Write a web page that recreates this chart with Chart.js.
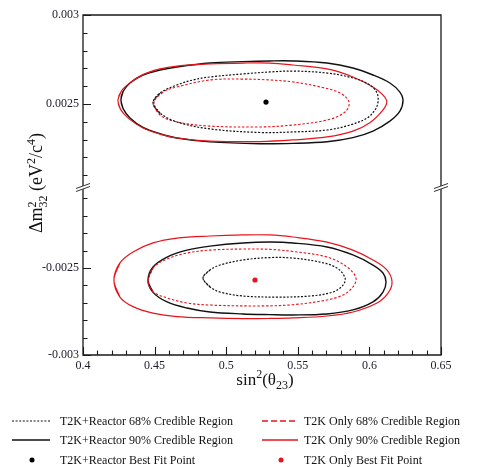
<!DOCTYPE html>
<html><head><meta charset="utf-8">
<script src="https://cdn.jsdelivr.net/npm/chart.js@4.4.0/dist/chart.umd.min.js"></script>
<style>
html,body{margin:0;padding:0;background:#fff;}
#wrap{position:relative;width:478px;height:467px;overflow:hidden;font-family:"Liberation Serif","DejaVu Serif",serif;color:#111;}
#c{position:absolute;left:0;top:0;}
.ytitle{position:absolute;left:38px;top:183px;transform:translate(-50%,-50%) rotate(-90deg);white-space:nowrap;font-size:18px;line-height:1;}
.xtitle{position:absolute;left:265px;top:379px;transform:translate(-50%,-50%);white-space:nowrap;font-size:17px;line-height:1;}
.ss{display:inline-block;vertical-align:-0.45em;line-height:0.95;font-size:12px;text-align:left;}
.ss span{display:block;}
sup,sub{font-size:12px;line-height:0;}
.leg{position:absolute;font-size:12px;white-space:nowrap;line-height:14px;}
svg.smp{position:absolute;}
</style></head>
<body>
<div id="wrap">
<canvas id="c" width="478" height="467"></canvas>
<div class="ytitle">Δm<span class="ss"><span>2</span><span>32</span></span> (eV<sup>2</sup>/c<sup>4</sup>)</div>
<div class="xtitle">sin<sup>2</sup>(θ<sub>23</sub>)</div>

<svg class="smp" style="left:12px;top:416px" width="40" height="10"><line x1="0" y1="5" x2="38" y2="5" stroke="#111" stroke-width="1.2" stroke-dasharray="2,1.6"/></svg>
<div class="leg" style="left:60px;top:414px">T2K+Reactor 68% Credible Region</div>
<svg class="smp" style="left:12px;top:435px" width="40" height="10"><line x1="0" y1="5" x2="38" y2="5" stroke="#111" stroke-width="1.5"/></svg>
<div class="leg" style="left:60px;top:433px">T2K+Reactor 90% Credible Region</div>
<svg class="smp" style="left:27px;top:455px" width="10" height="10"><circle cx="5" cy="5" r="2.5" fill="#000"/></svg>
<div class="leg" style="left:60px;top:453px">T2K+Reactor Best Fit Point</div>

<svg class="smp" style="left:262px;top:416px" width="40" height="10"><line x1="0" y1="5" x2="36" y2="5" stroke="#e8141b" stroke-width="1.3" stroke-dasharray="6,3"/></svg>
<div class="leg" style="left:304px;top:414px">T2K Only 68% Credible Region</div>
<svg class="smp" style="left:262px;top:435px" width="40" height="10"><line x1="0" y1="5" x2="36" y2="5" stroke="#e8141b" stroke-width="1.3"/></svg>
<div class="leg" style="left:304px;top:433px">T2K Only 90% Credible Region</div>
<svg class="smp" style="left:276px;top:455px" width="10" height="10"><circle cx="5" cy="5" r="2.5" fill="#e8141b"/></svg>
<div class="leg" style="left:304px;top:453px">T2K Only Best Fit Point</div>
</div>
<script>
// ---- data (sin^2(theta23), Δm^2_32 in eV^2/c^4) ----
const xTicks = [0.4, 0.45, 0.5, 0.55, 0.6, 0.65];
const xMinorTicks = [0.41,0.42,0.43,0.44,0.46,0.47,0.48,0.49,0.51,0.52,0.53,0.54,0.56,0.57,0.58,0.59,0.61,0.62,0.63,0.64];
const yTopTicks = [0.0025, 0.003];
const yBotTicks = [-0.003, -0.0025];
const yTopMinor = [0.0021,0.0022,0.0023,0.0024,0.0026,0.0027,0.0028,0.0029];
const yBotMinor = [-0.0029,-0.0028,-0.0027,-0.0026,-0.0024,-0.0023,-0.0022,-0.0021];

// Normal ordering (upper panel)
const reactor90Top = [[0.4265,0.002522],[0.4280,0.002570],[0.4328,0.002618],[0.4419,0.002663],[0.4538,0.002691],[0.4656,0.002708],[0.4887,0.002730],[0.5117,0.002738],[0.5305,0.002742],[0.5466,0.002742],[0.5704,0.002730],[0.5885,0.002702],[0.6025,0.002663],[0.6143,0.002618],[0.6213,0.002567],[0.6235,0.002522],[0.6213,0.002460],[0.6143,0.002404],[0.6025,0.002348],[0.5885,0.002311],[0.5704,0.002288],[0.5466,0.002279],[0.5235,0.002277],[0.4887,0.002287],[0.4656,0.002309],[0.4538,0.002333],[0.4419,0.002369],[0.4328,0.002422],[0.4280,0.002474],[0.4265,0.002522]];
const t2k90Top = [[0.4244,0.002522],[0.4270,0.002575],[0.4330,0.002620],[0.4419,0.002665],[0.4538,0.002697],[0.4656,0.002713],[0.4887,0.002725],[0.5117,0.002730],[0.5305,0.002730],[0.5466,0.002719],[0.5704,0.002697],[0.5885,0.002652],[0.6025,0.002596],[0.6094,0.002551],[0.6122,0.002511],[0.6094,0.002466],[0.6003,0.002395],[0.5885,0.002348],[0.5704,0.002315],[0.5466,0.002298],[0.5236,0.002289],[0.4887,0.002292],[0.4656,0.002309],[0.4538,0.002331],[0.4419,0.002365],[0.4320,0.002418],[0.4262,0.002470],[0.4244,0.002522]];
const reactor68Top = [[0.4489,0.002506],[0.4538,0.002562],[0.4656,0.002607],[0.4768,0.002635],[0.4887,0.002652],[0.5117,0.002669],[0.5305,0.002680],[0.5466,0.002685],[0.5704,0.002674],[0.5885,0.002646],[0.6003,0.002607],[0.6053,0.002562],[0.6060,0.002511],[0.6039,0.002466],[0.5983,0.002421],[0.5865,0.002382],[0.5704,0.002354],[0.5466,0.002343],[0.5236,0.002340],[0.4887,0.002360],[0.4656,0.002399],[0.4538,0.002449],[0.4489,0.002506]];
const t2k68Top = [[0.4496,0.002511],[0.4559,0.002567],[0.4656,0.002596],[0.4887,0.002635],[0.5117,0.002640],[0.5305,0.002635],[0.5466,0.002624],[0.5655,0.002596],[0.5795,0.002562],[0.5858,0.002511],[0.5830,0.002455],[0.5704,0.002410],[0.5466,0.002382],[0.5236,0.002371],[0.4887,0.002376],[0.4656,0.002399],[0.4538,0.002438],[0.4496,0.002511]];

// Inverted ordering (lower panel)
const t2k90Bot = [[0.4216,-0.002569],[0.4258,-0.002471],[0.4349,-0.002408],[0.4489,-0.002356],[0.4656,-0.002328],[0.4887,-0.002316],[0.5117,-0.002310],[0.5305,-0.002310],[0.5466,-0.002322],[0.5704,-0.002351],[0.5885,-0.002397],[0.6025,-0.002454],[0.6122,-0.002511],[0.6158,-0.002580],[0.6130,-0.002644],[0.6053,-0.002701],[0.5885,-0.002753],[0.5704,-0.002776],[0.5466,-0.002787],[0.5305,-0.002790],[0.5117,-0.002791],[0.4887,-0.002787],[0.4656,-0.002779],[0.4489,-0.002759],[0.4349,-0.002722],[0.4258,-0.002667],[0.4216,-0.002569]];
const reactor90Bot = [[0.4454,-0.002569],[0.4489,-0.002494],[0.4587,-0.002437],[0.4726,-0.002397],[0.4887,-0.002374],[0.5117,-0.002356],[0.5305,-0.002351],[0.5466,-0.002356],[0.5704,-0.002379],[0.5885,-0.002425],[0.6025,-0.002483],[0.6095,-0.002529],[0.6116,-0.002580],[0.6095,-0.002638],[0.6025,-0.002695],[0.5885,-0.002741],[0.5704,-0.002764],[0.5466,-0.002770],[0.5305,-0.002768],[0.5117,-0.002764],[0.4887,-0.002753],[0.4726,-0.002730],[0.4587,-0.002695],[0.4489,-0.002640],[0.4454,-0.002569]];
const t2k68Bot = [[0.4454,-0.002580],[0.4489,-0.002500],[0.4587,-0.002448],[0.4726,-0.002414],[0.4887,-0.002397],[0.5117,-0.002391],[0.5305,-0.002393],[0.5466,-0.002405],[0.5704,-0.002437],[0.5844,-0.002494],[0.5906,-0.002557],[0.5885,-0.002609],[0.5816,-0.002655],[0.5704,-0.002684],[0.5466,-0.002711],[0.5236,-0.002718],[0.4887,-0.002713],[0.4726,-0.002701],[0.4587,-0.002672],[0.4489,-0.002636],[0.4454,-0.002580]];
const reactor68Bot = [[0.4838,-0.002557],[0.4887,-0.002511],[0.4957,-0.002483],[0.5117,-0.002454],[0.5305,-0.002440],[0.5466,-0.002443],[0.5655,-0.002466],[0.5774,-0.002500],[0.5830,-0.002557],[0.5816,-0.002598],[0.5746,-0.002638],[0.5585,-0.002661],[0.5355,-0.002667],[0.5117,-0.002661],[0.4957,-0.002638],[0.4887,-0.002609],[0.4838,-0.002557]];

const reactorBestFit = [[0.5278, 0.002511]];
const t2kBestFit = [[0.5201, -0.002569]];

// ---- chart ----
const BLACK = '#111', RED = '#e8141b';
const xy = a => a.map(p => ({x: p[0], y: p[1]}));
// closed loop: wrap one point on each side so the spline is smooth through the join
const loop = a => xy([a[a.length - 2], ...a, a[1]]);
function contour(data, axis, color, dash, width) {
  return {type:'scatter', data: loop(data), yAxisID: axis, showLine: true, pointRadius: 0,
    borderColor: color, borderWidth: width, borderDash: dash, tension: 0.35, fill: false};
}
function dot(data, axis, color) {
  return {type:'scatter', data: xy(data), yAxisID: axis, pointRadius: 2.6, pointBackgroundColor: color,
    pointBorderColor: color, pointBorderWidth: 0, showLine: false};
}

const frame = {
  id: 'frame',
  afterDraw(chart) {
    const {ctx, chartArea: a, scales} = chart;
    ctx.save();
    ctx.strokeStyle = '#1a1a1a';
    ctx.lineWidth = 1.3;
    ctx.beginPath();
    ctx.rect(a.left, a.top, a.right - a.left, a.bottom - a.top);
    ctx.stroke();
    ctx.lineWidth = 1.1;
    ctx.beginPath();
    const xs = scales.x;
    xTicks.forEach(v => { const p = Math.round(xs.getPixelForValue(v)) + 0.5; ctx.moveTo(p, a.bottom); ctx.lineTo(p, a.bottom - 8); });
    xMinorTicks.forEach(v => { const p = Math.round(xs.getPixelForValue(v)) + 0.5; ctx.moveTo(p, a.bottom); ctx.lineTo(p, a.bottom - 4.5); });
    const yt = scales.yTop, yb = scales.yBot;
    yTopTicks.forEach(v => { const p = Math.round(yt.getPixelForValue(v)) + 0.5; ctx.moveTo(a.left, p); ctx.lineTo(a.left + 8, p); });
    yBotTicks.forEach(v => { const p = Math.round(yb.getPixelForValue(v)) + 0.5; ctx.moveTo(a.left, p); ctx.lineTo(a.left + 8, p); });
    yTopMinor.forEach(v => { const p = Math.round(yt.getPixelForValue(v)) + 0.5; ctx.moveTo(a.left, p); ctx.lineTo(a.left + 4.5, p); });
    yBotMinor.forEach(v => { const p = Math.round(yb.getPixelForValue(v)) + 0.5; ctx.moveTo(a.left, p); ctx.lineTo(a.left + 4.5, p); });
    ctx.stroke();
    // axis break marks
    const by = yt.bottom + 1;
    [a.left, a.right].forEach(bx => {
      ctx.fillStyle = '#fff';
      ctx.beginPath();
      ctx.moveTo(bx - 7, by + 2.5); ctx.lineTo(bx + 7, by - 2.5); ctx.lineTo(bx + 7, by + 0.5); ctx.lineTo(bx - 7, by + 5.5);
      ctx.closePath(); ctx.fill();
      ctx.strokeStyle = '#333'; ctx.lineWidth = 1;
      ctx.beginPath();
      ctx.moveTo(bx - 7, by + 2.5); ctx.lineTo(bx + 7, by - 2.5);
      ctx.moveTo(bx - 7, by + 5.5); ctx.lineTo(bx + 7, by + 0.5);
      ctx.stroke();
    });
    ctx.restore();
  }
};

const tickFont = {family: '"Liberation Serif", serif', size: 12};
new Chart(document.getElementById('c'), {
  type: 'scatter',
  data: {datasets: [
    contour(reactor68Top, 'yTop', BLACK, [2, 1.6], 1.2),
    contour(t2k68Top, 'yTop', RED, [2.5, 1.8], 1.1),
    contour(t2k90Top, 'yTop', RED, [], 1.2),
    contour(reactor90Top, 'yTop', BLACK, [], 1.4),
    contour(reactor68Bot, 'yBot', BLACK, [2, 1.6], 1.2),
    contour(t2k68Bot, 'yBot', RED, [2.5, 1.8], 1.1),
    contour(t2k90Bot, 'yBot', RED, [], 1.2),
    contour(reactor90Bot, 'yBot', BLACK, [], 1.4),
    dot(reactorBestFit, 'yTop', '#000'),
    dot(t2kBestFit, 'yBot', RED)
  ]},
  options: {
    responsive: false, animation: false, devicePixelRatio: 1,
    layout: {padding: {left: 0, top: 15, right: 37, bottom: 72}},
    plugins: {legend: {display: false}, tooltip: {enabled: false}},
    scales: {
      x: {type: 'linear', min: 0.4, max: 0.65,
        grid: {display: false, drawTicks: false}, border: {display: false},
        afterBuildTicks: s => { s.ticks = xTicks.map(v => ({value: v})); },
        afterFit: s => { s.height = 40; },
        ticks: {font: tickFont, color: '#1b1b2a', padding: 4, maxRotation: 0, callback: v => String(v)}},
      yBot: {type: 'linear', position: 'left', stack: 'm', stackWeight: 1, min: -0.003, max: -0.002023,
        grid: {display: false, drawTicks: false}, border: {display: false},
        afterBuildTicks: s => { s.ticks = yBotTicks.map(v => ({value: v})); },
        afterFit: s => { s.width = 83; },
        ticks: {font: tickFont, color: '#1b1b2a', padding: 4, callback: v => String(v)}},
      yTop: {type: 'linear', position: 'left', stack: 'm', stackWeight: 1, min: 0.002045, max: 0.003,
        grid: {display: false, drawTicks: false}, border: {display: false},
        afterBuildTicks: s => { s.ticks = yTopTicks.map(v => ({value: v})); },
        afterFit: s => { s.width = 83; },
        ticks: {font: tickFont, color: '#1b1b2a', padding: 4, callback: v => String(v)}}
    }
  },
  plugins: [frame]
});
</script>
</body></html>
